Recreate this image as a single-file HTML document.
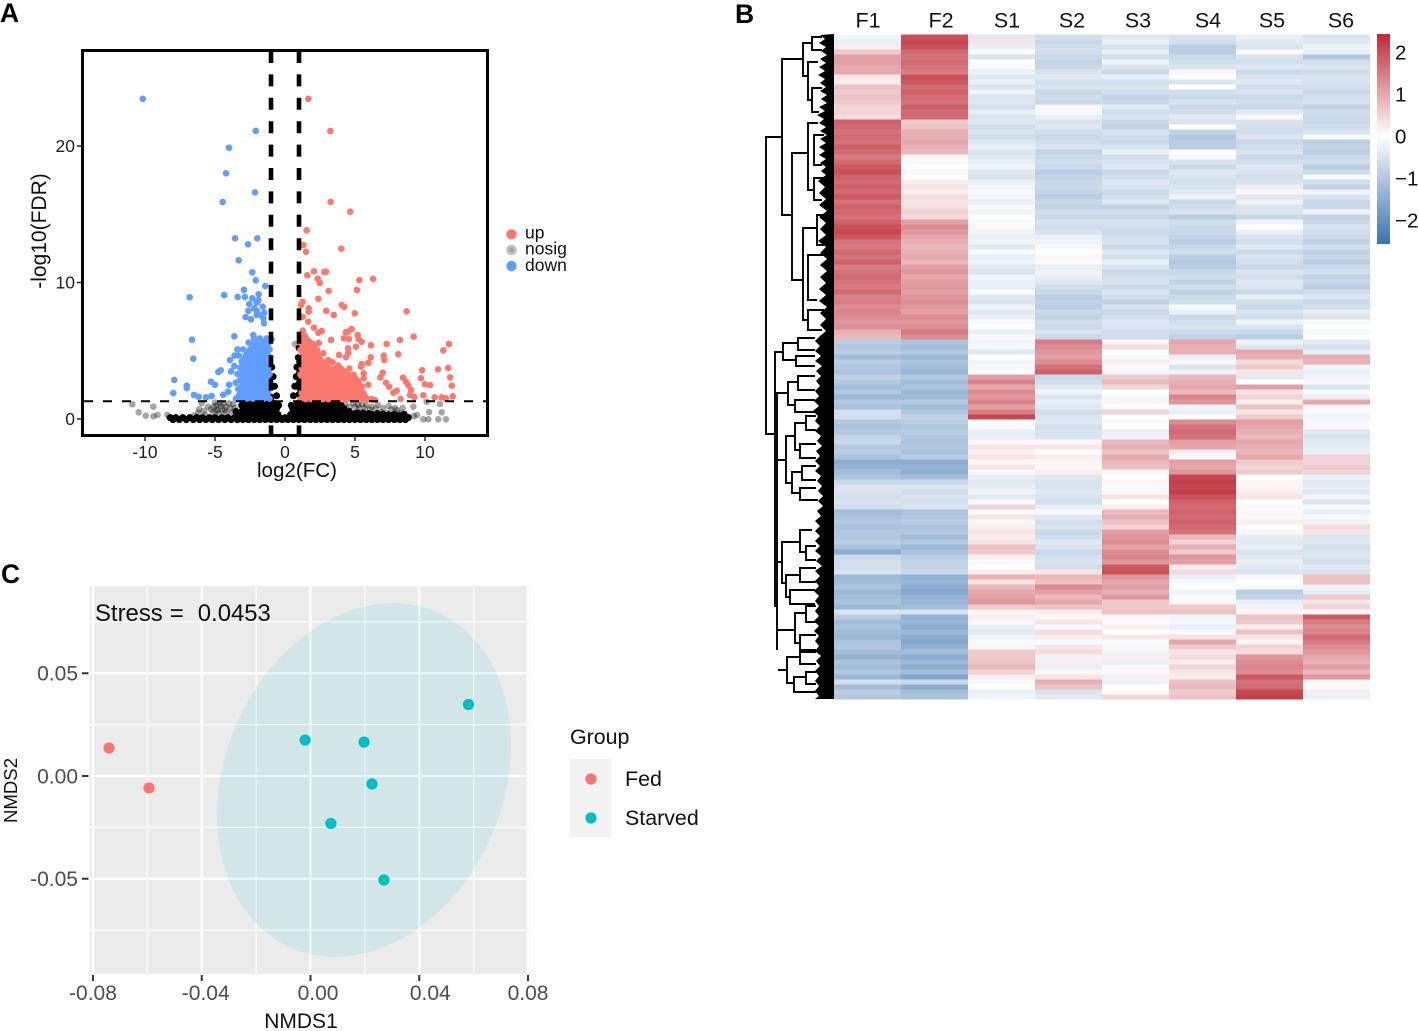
<!DOCTYPE html>
<html lang="en">
<head>
<meta charset="utf-8">
<title>Volcano plot, heatmap and NMDS ordination</title>
<style>
html,body{margin:0;padding:0;background:#fff;}
svg{display:block;font-family:"Liberation Sans",Arial,sans-serif;}
</style>
</head>
<body>
<svg id="fig" xmlns="http://www.w3.org/2000/svg" width="1418" height="1031" viewBox="0 0 1418 1031">
  <rect x="0" y="0" width="1418" height="1031" fill="#fff"/>
  <text x="0" y="22" font-size="26.5" font-weight="bold" fill="#000">A</text>
  <text x="735" y="23" font-size="26.5" font-weight="bold" fill="#000">B</text>
  <text x="1" y="583" font-size="26.5" font-weight="bold" fill="#000">C</text>

  <g id="volcano">
    <g id="volcano-points"></g>
    <line x1="271" y1="51" x2="271" y2="435" stroke="#000" stroke-width="4.6" stroke-dasharray="12 11.4"/>
    <line x1="299" y1="51" x2="299" y2="435" stroke="#000" stroke-width="4.6" stroke-dasharray="12 11.4"/>
    <line x1="84" y1="401.3" x2="486" y2="401.3" stroke="#000" stroke-width="2" stroke-dasharray="9 10"/>
    <rect x="82.5" y="50.5" width="405" height="385" fill="none" stroke="#000" stroke-width="3"/>
    <g id="volcano-axes"></g>
    <text x="297" y="477" font-size="20.6" text-anchor="middle" fill="#111">log2(FC)</text>
    <text transform="translate(46 231) rotate(-90)" font-size="21" text-anchor="middle" fill="#111">-log10(FDR)</text>
    <g font-size="17.5" fill="#111">
      <circle cx="511.5" cy="234.3" r="5.2" fill="#FB786E"/>
      <text x="525" y="238.5">up</text>
      <circle cx="511.5" cy="250" r="5.2" fill="#BDBDBD"/>
      <circle cx="511.5" cy="250" r="2.2" fill="#A0A0A0"/>
      <text x="525" y="254.5">nosig</text>
      <circle cx="511.5" cy="266" r="5.2" fill="#619CFF"/>
      <text x="525" y="271">down</text>
    </g>
  </g>

  <g id="heatmap">
    <g id="dendrogram">
      <polygon fill="#000" points="834,34 820,35 825,39 819,43 826,47 821,51 827,55 820,59 826,63 819,67 825,71 818,75 825,79 820,83 826,87 820,91 827,95 821,99 827,103 819,107 825,111 817,115 824,119 819,123 826,127 820,131 827,135 820,139 826,143 819,147 825,151 819,155 826,159 820,163 826,167 821,171 826,175 818,181 825,187 819,193 826,199 819,205 827,211 819,217 826,223 820,229 826,235 818,241 826,247 820,253 827,259 820,265 827,271 820,277 826,283 819,289 826,295 819,301 827,307 820,313 826,319 820,325 826,331 820,336 815,341 820,346 815,351 821,356 815,361 822,366 816,371 821,376 816,381 820,386 815,391 819,396 814,401 819,406 813,411 818,416 815,421 820,426 815,431 821,436 817,441 822,446 816,451 820,456 815,461 820,466 815,471 821,476 817,481 822,486 818,491 823,496 818,501 823,506 817,511 821,516 815,521 820,526 815,531 820,536 815,541 820,546 815,551 821,556 816,561 822,566 815,571 820,576 815,581 819,586 814,591 819,596 815,601 819,606 815,611 819,616 814,621 819,626 814,631 819,636 815,641 819,646 815,651 821,656 816,661 820,666 815,671 819,676 815,681 819,686 815,691 819,696 815,699 834,699"/>
      <path fill="none" stroke="#000" stroke-width="1.9" d="
        M782 137H766V434H775
        M803 59H782V215H792
        M812 43H803V76H808
        M822 37H812V50H822
        M818 62H808V100H812
        M822 88H812V112H819
        M808 153H792V280H803
        M818 123H808V190H814
        M824 135H814V165H822
        M824 178H814V200H822
        M817 228H803V320H808
        M824 215H817V245H824
        M824 255H808V300H817
        M824 310H808V330H822
        M783 352H775V607
        M798 343H783V360H796
        M815 338H798V350H815
        M815 356H796V366H815
        M788 393H777V650
        M798 382H788V405H795
        M815 376H798V390H815
        M815 400H795V412H815
        M786 460H777
        M795 436H786V483H792
        M806 423H795V450H800
        M816 430H806V416H816
        M816 444H800V458H816
        M802 472H792V493H800
        M816 466H802V480H816
        M816 488H800V500H818
        M782 562H777
        M800 542H782V583H786
        M812 530H800V552H806
        M816 546H806V560H816
        M800 575H786V597H790
        M816 568H800V582H816
        M815 590H790V604H815
        M795 630H778
        M806 613H795V643H800
        M816 606H806V622H816
        M816 635H800V652H816
        M787 670H778
        M800 657H787V683H794
        M816 650H800V664H816
        M806 677H794V692H816
        M816 672H806V684H816"/>
    </g>
    <g id="heat-cells" shape-rendering="crispEdges"></g>
    <g id="heat-labels"></g>
    <g id="colorbar"></g>
  </g>

  <g id="nmds">
    <rect x="89.5" y="586" width="440" height="388" fill="#EBEBEB"/>
    <g id="nmds-grid"></g>
    <polygon id="nmds-ellipse" fill="#00BFC4" fill-opacity="0.1"></polygon>
    <g id="nmds-points"></g>
    <g id="nmds-axes"></g>
    <text x="95" y="621" font-size="23.9" word-spacing="0.4" fill="#111" xml:space="preserve" style="white-space:pre">Stress =  0.0453</text>
    <text x="301" y="1028" font-size="21" text-anchor="middle" fill="#111">NMDS1</text>
    <text transform="translate(17 790.5) rotate(-90)" font-size="18.6" text-anchor="middle" fill="#111">NMDS2</text>
    <g fill="#111" font-size="21.4">
      <text x="570" y="744">Group</text>
      <rect x="570" y="759" width="41" height="78" fill="#F2F2F2"/>
      <circle cx="591" cy="779" r="5.6" fill="#F8766D"/>
      <circle cx="591" cy="818" r="5.6" fill="#00BFC4"/>
      <text x="625" y="786">Fed</text>
      <text x="625" y="825">Starved</text>
    </g>
  </g>
</svg>
<script>
/* ---------- Panel A data: [log2FC, -log10FDR] ---------- */
const volcanoXTicks = [-10, -5, 0, 5, 10];
const volcanoYTicks = [0, 10, 20];
const nosigEdge = [[-10.9,1.08],[-10.45,.49],[-9.95,.24],[-9.4,.9],[-9.4,.2],[-9.1,.3],[-8.4,.3],[-7.8,.1],[-6.14,.71],[-5.95,1.15],[-5.12,.53],[-4.64,1.15],[-4.9,1.0],[-4.2,.9],[-4.2,.5],[-3.7,1.1],[-5.1,.9],[-4.5,.65],[-5.5,.9],[-5.7,.3],[-.95,5.84],[.71,5.49],[9.17,.9],[10.12,1.27],[11.07,1.1],[10.29,.51],[11.19,.49],[9.88,-.02],[10.24,-.02],[10.95,-.02],[11.5,-.02],[8.81,.17],[9.43,.3],[5.24,1.03],[5.0,.9],[4.4,.66],[5.71,.8],[6.64,1.03],[7.86,.8],[7.26,.44],[8.2,.44],[7.6,.7],[9.2,.2],[6.1,.7],[6.9,.5],[-4.8,.7],[-3.9,.8],[-6.5,.25],
[-4.4,1.1],[-4.7,.4],[-4.0,1.15],[-3.8,.45],[-4.3,.65],[-4.6,.95],[-3.6,.8],[-4.9,.6],[-5.3,.7],[-5.0,1.2],[4.6,.9],[4.9,1.15],[5.3,.8],[5.5,1.1],[5.8,1.0],[6.2,.9],[6.5,.75],[7.0,.8],[7.4,.95],[8.0,.65],[8.4,.8],[4.3,1.1],[-5.8,.6],[-6.2,.45]];
const nosigCore = [[-8.2,.1],[-7.8,.1],[-7.3,.1],[-6.8,.1],[-6.3,.1],[-5.9,.1],[-5.4,.1],[-5,.1],[-4.5,.1],[-4.1,.1],[-3.6,.1],[-3.2,.1],[-2.8,.1],[-2.4,.1],[-2,.1],[-1.6,.1],[-1.2,.1],[-.8,.1],[-.4,.1],[0,.1],[.4,.1],[.8,.1],[1.2,.1],[1.6,.1],[2,.1],[2.4,.1],[2.8,.1],[3.2,.1],[3.6,.1],[4,.1],[4.4,.1],[4.8,.1],[5.2,.1],[5.6,.1],[6,.1],[6.4,.1],[6.8,.1],[7.2,.1],[7.6,.1],[8,.1],[8.4,.1],[8.8,.1],
[-8,-.05],[-7.55,-.05],[-7.05,-.05],[-6.55,-.05],[-6.1,-.05],[-5.65,-.05],[-5.2,-.05],[-4.75,-.05],[-4.3,-.05],[-3.85,-.05],[-3.4,-.05],[-3,-.05],[-2.6,-.05],[-2.2,-.05],[-1.8,-.05],[-1.4,-.05],[-1,-.05],[-.6,-.05],[-.2,-.05],[.2,-.05],[.6,-.05],[1,-.05],[1.4,-.05],[1.8,-.05],[2.2,-.05],[2.6,-.05],[3,-.05],[3.4,-.05],[3.8,-.05],[4.2,-.05],[4.6,-.05],[5,-.05],[5.4,-.05],[5.8,-.05],[6.2,-.05],[6.6,-.05],[7,-.05],[7.4,-.05],[7.8,-.05],[8.2,-.05],[8.6,-.05],
[-3.5,.55],[-3.1,.55],[-2.7,.55],[-2.3,.55],[-1.9,.55],[-1.5,.55],[-1.1,.55],[-.7,.55],[.6,.55],[1,.55],[1.4,.55],[1.8,.55],[2.2,.55],[2.6,.55],[3,.55],[3.4,.55],[3.8,.55],[4.2,.55],[4.6,.55],[5,.4],[5.4,.3],[6,.4],[7.4,.3],
[-3.3,.33],[-2.9,.33],[-2.5,.33],[-2.1,.33],[-1.7,.33],[-1.3,.33],[-.9,.33],[-.5,.33],[.4,.33],[.8,.33],[1.2,.33],[1.6,.33],[2,.33],[2.4,.33],[2.8,.33],[3.2,.33],[3.6,.33],[4,.33],[4.4,.33],[4.8,.33],[5.2,.45],[5.6,.45],[5.8,.3],[6.2,.35],[6.6,.4],[7,.35],[7.8,.35],[8.2,.25],[8.5,.35],
[-3.1,1.0],[-2.7,1.0],[-2.3,1.0],[-1.9,1.0],[-1.5,1.0],[-1.1,1.0],[-.7,1.0],[.8,1.0],[1.2,1.0],[1.6,1.0],[2,1.0],[2.4,1.0],[2.8,1.0],[3.2,1.0],[3.6,1.0],[4,1.0],
[-2.9,.77],[-2.5,.77],[-2.1,.77],[-1.7,.77],[-1.3,.77],[-.9,.77],[-.6,.77],[.55,.77],[1,.77],[1.4,.77],[1.8,.77],[2.2,.77],[2.6,.77],[3,.77],[3.4,.77],[3.8,.77],[4.2,.77],
[-2.9,1.2],[-2.5,1.2],[-2.1,1.2],[-1.7,1.2],[-1.3,1.2],[-.9,1.2],[1,1.2],[1.4,1.2],[1.8,1.2],[2.2,1.2],[2.6,1.2],[3,1.2],[3.4,1.2],[3.8,1.2],
[-.45,1.0],[-.6,1.7],[-.75,2.4],[-.85,3.1],[-.95,3.8],[-1,1.6],[-1,2.4],[-1,3.1],[-1.1,4.2],
[.45,1.0],[.6,1.7],[.7,2.4],[.8,3.1],[.85,3.8],[.95,4.5],[1,5.2],[1,1.8],[1,2.6],[1.05,3.4],[1.05,4.2]];
const upPoints = [[1.67,23.46],[3.24,21.1],[3.26,15.9],[4.66,15.19],[1.55,13.82],[1.31,12.75],[1.5,12.26],[4.02,12.48],[1.59,10.53],[2.07,10.82],[2.81,10.77],[2.93,10.79],[2.34,10.28],[2.48,9.96],[5.31,10.18],[6.29,10.26],[5.14,9.45],[3.12,9.38],[2.38,8.81],[4.05,8.35],[4.24,8.21],[1.26,8.59],[1.14,8.35],[1.69,8.11],[1.69,7.86],[2.95,7.93],[3.48,7.62],[4.98,7.74],[8.69,7.89],[1.26,7.49],[1.66,7.13],[2.07,6.69],[2.62,6.45],[2.38,6.32],[1.26,6.47],[4.76,6.59],[4.52,6.4],[4.34,6.35],[5.19,6.15],[5.26,5.86],[5.48,5.66],[5.07,5.3],[4.21,5.91],[4.57,5.86],[3.29,5.79],[2.41,5.57],[6.14,5.4],[7.26,5.49],[8.21,5.79],[9.19,6.03],[11.71,5.49],[11.31,5.03],[8.09,4.74],[7.05,4.64],[7.09,4.32],[6.12,4.52],[5.95,4.12],[5.48,4.03],[5.43,3.83],[4.5,5.18],[4.52,4.86],[4.36,4.54],[3.86,4.69],[3.09,4.32],[2.74,4.81],[2.55,4.15],[9.79,3.57],[10.93,3.64],[11.66,3.74],[9.71,2.98],[11.79,3.05],[10,2.54],[10.36,2.49],[11.91,2.44],[9.88,1.74],[10.69,1.59],[11.19,1.59],[11.48,1.52],[11.98,1.66],[9.24,1.61],[9,2.12],[8.81,2.47],[8.64,2.73],[8.43,3.03],[8.93,1.76],[8.26,1.47],[7.98,2.07],[7.74,1.93],[7.43,2.37],[7.21,2.66],[6.98,3.39],[6.81,3.05],[5.95,2.51],[5.62,3.35],[5.62,2.98],[6.43,1.39],
[1.1,1.45],[1.5,1.45],[1.9,1.45],[2.3,1.45],[2.7,1.45],[3.1,1.45],[3.5,1.45],[3.9,1.45],[4.3,1.45],[4.7,1.45],[5.1,1.45],[5.5,1.45],[5.9,1.45],[6.2,1.45],
[1.2,1.9],[1.6,1.9],[2.0,1.9],[2.4,1.9],[2.8,1.9],[3.2,1.9],[3.6,1.9],[4.0,1.9],[4.4,1.9],[4.8,1.9],[5.2,1.9],[5.6,1.9],
[1.1,2.35],[1.5,2.35],[1.9,2.35],[2.3,2.35],[2.7,2.35],[3.1,2.35],[3.5,2.35],[3.9,2.35],[4.3,2.35],[4.7,2.35],[5.1,2.35],[5.5,2.35],
[1.2,2.8],[1.6,2.8],[2.0,2.8],[2.4,2.8],[2.8,2.8],[3.2,2.8],[3.6,2.8],[4.0,2.8],[4.4,2.8],[4.8,2.8],[5.2,2.8],
[1.1,3.25],[1.5,3.25],[1.9,3.25],[2.3,3.25],[2.7,3.25],[3.1,3.25],[3.5,3.25],[4.1,3.25],[4.5,3.25],[4.9,3.25],
[1.2,3.7],[1.6,3.7],[2.0,3.7],[2.4,3.7],[2.8,3.7],[3.2,3.7],[3.6,3.7],[4.0,3.7],[4.6,3.7],
[1.1,4.15],[1.5,4.15],[1.9,4.15],[2.3,4.15],[2.9,4.15],[3.4,4.15],
[1.2,4.6],[1.6,4.6],[2.0,4.6],[2.4,4.6],[1.1,5.05],[1.5,5.05],[1.9,5.05],[2.3,5.05],[1.2,5.5],[1.6,5.5],[2.0,5.5],[1.1,5.9],[1.5,5.9],
[1.3,1.67],[1.7,1.67],[2.1,1.67],[2.5,1.67],[2.9,1.67],[3.3,1.67],[3.7,1.67],[4.1,1.67],[4.5,1.67],[4.9,1.67],[5.3,1.67],[5.7,1.67],
[1.4,2.12],[1.8,2.12],[2.2,2.12],[2.6,2.12],[3,2.12],[3.4,2.12],[3.8,2.12],[4.2,2.12],[4.6,2.12],[5,2.12],[5.4,2.12],
[1.3,2.57],[1.7,2.57],[2.1,2.57],[2.5,2.57],[2.9,2.57],[3.3,2.57],[3.7,2.57],[4.1,2.57],[4.5,2.57],[4.9,2.57],[5.3,2.57],
[1.4,3.02],[1.8,3.02],[2.2,3.02],[2.6,3.02],[3,3.02],[3.4,3.02],[3.8,3.02],[4.2,3.02],[4.6,3.02],[5,3.02],
[1.3,3.47],[1.7,3.47],[2.1,3.47],[2.5,3.47],[2.9,3.47],[3.3,3.47],[3.8,3.47],[4.3,3.47],
[1.4,3.92],[1.8,3.92],[2.2,3.92],[2.6,3.92],[3,3.92],[3.8,3.92],
[1.3,4.37],[1.7,4.37],[2.1,4.37],[2.5,4.37],[1.4,4.82],[1.8,4.82],[2.2,4.82],[1.3,5.27],[1.7,5.27],[2.1,5.27],[1.3,5.7],[1.7,5.7],[1.4,6.1]];
const downPoints = [[-10.16,23.46],[-2.09,21.1],[-4.0,19.88],[-4.21,18.0],[-2.14,16.6],[-4.45,15.9],[-3.57,13.24],[-1.98,13.24],[-2.64,12.8],[-3.31,11.63],[-2.34,10.75],[-2.09,10.16],[-1.41,9.74],[-2.93,9.47],[-6.81,8.92],[-4.34,9.08],[-3.38,8.94],[-2.86,8.94],[-1.88,9.14],[-2.34,8.84],[-2.55,8.42],[-2.02,8.52],[-1.59,8.23],[-2.62,7.93],[-2.02,7.93],[-1.48,7.79],[-2.02,7.62],[-2.81,7.47],[-2.43,7.3],[-1.55,7.38],[-1.5,7.01],[-2.2,8.1],[-1.7,7.6],[-1.9,8.7],[-3.62,6.06],[-6.64,5.81],[-2.26,6.15],[-6.55,4.42],[-3.93,4.32],[-7.91,2.86],[-7.98,1.9],[-7.02,2.44],[-7.02,2.27],[-6.5,1.76],[-6.16,1.63],[-5.64,1.59],[-5.24,1.68],[-5.29,2.73],[-5,2.51],[-4.76,3.44],[-4.59,3.57],[-3.86,3.49],[-4.41,1.78],[-4.05,2.0],[-4,2.51],[-3.52,2.66],[-3.34,2.2],[-3.62,3.88],
[-1.1,1.5],[-1.5,1.5],[-1.9,1.5],[-2.3,1.5],[-2.7,1.5],[-3.1,1.5],[-3.5,1.5],
[-1.2,1.95],[-1.6,1.95],[-2.0,1.95],[-2.4,1.95],[-2.8,1.95],[-3.2,1.95],
[-1.1,2.4],[-1.5,2.4],[-1.9,2.4],[-2.3,2.4],[-2.7,2.4],[-3.1,2.4],
[-1.2,2.85],[-1.6,2.85],[-2.0,2.85],[-2.4,2.85],[-2.8,2.85],[-3.2,2.85],
[-1.1,3.3],[-1.5,3.3],[-1.9,3.3],[-2.3,3.3],[-2.7,3.3],[-3.1,3.3],[-3.4,3.3],
[-1.2,3.75],[-1.6,3.75],[-2.0,3.75],[-2.4,3.75],[-2.8,3.75],[-3.2,3.75],
[-1.1,4.2],[-1.5,4.2],[-1.9,4.2],[-2.3,4.2],[-2.7,4.2],[-3.1,4.2],
[-1.2,4.65],[-1.6,4.65],[-2.0,4.65],[-2.4,4.65],[-2.8,4.65],[-3.3,4.65],[-3.6,4.65],
[-1.1,5.1],[-1.5,5.1],[-1.9,5.1],[-2.5,5.1],[-3.0,5.1],[-3.4,5.1],
[-1.2,5.5],[-1.6,5.5],[-2.0,5.5],[-2.4,5.5],[-1.3,5.9],[-1.8,5.9],[-2.2,5.9],
[-1.3,1.72],[-1.7,1.72],[-2.1,1.72],[-2.5,1.72],[-2.9,1.72],[-3.3,1.72],
[-1.4,2.17],[-1.8,2.17],[-2.2,2.17],[-2.6,2.17],[-3,2.17],
[-1.3,2.62],[-1.7,2.62],[-2.1,2.62],[-2.5,2.62],[-2.9,2.62],
[-1.4,3.07],[-1.8,3.07],[-2.2,3.07],[-2.6,3.07],[-3,3.07],
[-1.3,3.52],[-1.7,3.52],[-2.1,3.52],[-2.5,3.52],[-2.9,3.52],
[-1.4,3.97],[-1.8,3.97],[-2.2,3.97],[-2.6,3.97],[-3,3.97],
[-1.3,4.42],[-1.7,4.42],[-2.1,4.42],[-2.5,4.42],[-2.9,4.42],
[-1.4,4.87],[-1.8,4.87],[-2.2,4.87],[-2.7,4.87],[-1.3,5.3],[-1.7,5.3],[-2.2,5.3],[-1.5,5.7],[-2.6,5.6]];

/* ---------- Panel B data: z-scores per sample, top row to bottom row ---------- */
const sampleNames = ["F1","F2","S1","S2","S3","S4","S5","S6"];
const colorbarTicks = [2, 1, 0, -1, -2];
const colorbarRange = [-2.57, 2.43];
const zF1 = [-.2,-.3,.2,.6,1.1,1.1,1.0,1.0,.3,.2,
 .7,.6,.7,.6,.5,.5,.4,1.8,1.7,1.6,
 1.7,1.6,1.8,1.7,1.5,1.7,1.9,2.0,1.8,1.7,
 1.8,1.7,1.9,1.6,1.8,1.7,1.6,1.8,2.0,2.1,
 1.9,1.6,1.5,1.7,1.6,1.8,1.5,1.6,1.7,1.6,
 1.5,1.7,1.4,1.5,1.3,1.4,1.3,1.2,1.3,.9,
 .8,-.9,-1,-.9,-1.2,-.9,-1,-1.1,-.8,-1,
 -1.2,-1,-1.3,-1,-1.1,-.6,-.6,-1,-1.1,-1,
 -.8,-.7,-1,-.9,-1.1,-1.5,-1.4,-1.2,-1.1,-.7,
 -.5,-.5,-.6,-.5,-.6,-1.2,-1.1,-1,-1.1,-1,
 -1,-.9,-1.1,-1.5,-.7,-.6,-.6,-.5,-1.3,-1.2,
 -1.1,-1.3,-1.2,-1.1,-1.3,-.5,-.9,-1.2,-1.1,-1.2,
 -1.3,-1.1,-1,-1.2,-1.4,-1.1,-1.2,-1,-1.3,-.6,
 -1.2,-.9,-1];
const zF2 = [2,2.1,2,1.7,1.6,1.7,1.6,1.5,2,1.9,
 1.7,1.8,1.7,1.6,1.8,1.7,1.7,.6,.7,.9,
 .9,1,.9,.8,.1,-.1,0,.1,0,.2,
 .3,.2,.4,.3,.4,.5,.4,1.1,1.3,1.2,
 1,.9,.8,.9,1,.8,1.1,1.2,1,1.1,
 1.2,1.1,1.2,1.3,1.2,1.1,1.3,1.2,1.3,1.5,
 1.3,-1.1,-1.2,-1,-1.3,-1.1,-1.2,-1.3,-1,-1.2,
 -1.1,-1.3,-1.2,-1,-1.2,-1,-.8,-.9,-1,-.9,
 -1,-1.1,-1,-1.1,-.9,-1.5,-1.4,-1.5,-1.2,-.7,
 -.5,-.6,-.5,-.6,-.5,-1.1,-1,-.9,-1.1,-1,
 -1.2,-1,-1.3,-1.1,-.9,-.8,-.8,-.7,-1.4,-1.3,
 -1.5,-1.6,-1.4,-1.3,-1.2,-.5,-1.4,-1.3,-1.5,-1.3,
 -1.5,-1.6,-1.4,-1.2,-1.5,-1.3,-1.5,-1.2,-1.6,-.7,
 -1.5,-1.2,-1.1];
const zS1 = [-.4,.3,-.3,-.1,-.5,0,-.1,-.3,-.4,-.3,
 -.5,-.2,-.5,-.4,-.6,-.3,-.5,-.4,-.6,-.5,
 -.6,-.4,-.3,-.5,-.4,-.3,-.2,-.4,-.5,-.3,
 -.2,-.1,-.2,-.3,-.1,-.2,0,-.1,.1,-.2,
 -.3,-.2,-.4,-.1,-.3,-.2,-.4,-.5,-.2,-.3,
 -.3,-.1,-.4,-.5,-.2,-.4,-.3,-.1,0,-.3,
 -.1,-.2,-.1,-.4,0,-.2,.1,0,1.1,1.4,
 1,1.3,1.2,1.4,1.1,1.5,2.1,0,-.1,-.3,
 -.3,.1,.3,.2,.3,.1,.3,-.1,-.3,-.4,
 -.3,-.2,-.4,-.1,.5,-.1,.3,.1,.2,.3,
 .2,.3,.7,.6,.2,-.1,0,.2,.9,.3,
 .8,1,1.1,1.2,.6,.1,.2,-.1,-.3,-.4,
 -.2,-.1,.1,.6,.6,.7,.8,.5,.2,-.1,
 0,-.3,-.2];
const zS2 = [-.6,-.7,-.6,-.6,-.7,-.8,-.7,-.5,-.4,-.6,
 -.5,-.7,-.6,-.7,.1,-.1,-.3,-.5,-.4,-.6,
 -.7,-.6,-.5,-.8,-.7,-.6,-.7,-.9,-.8,-.7,
 -.7,-.8,-.9,-.7,-.8,-.6,-.7,-.5,-.6,-.5,
 -.3,-.2,-.1,0,.1,-.1,-.3,-.2,-.3,-.4,
 -.6,-.7,-.9,-.8,-.9,-.7,-.8,-.6,-.7,-.5,
 -.7,1.5,1.3,1.2,1.1,1.3,1.6,1.8,-.7,-.6,
 -.4,-.2,-.5,-.3,-.4,-.6,-.5,-.4,-.6,-.5,
 -.5,.1,.3,0,.2,.1,-.1,.2,-.4,-.5,
 -.5,-.4,-.5,-.6,-.3,-.1,-.4,-.6,-.5,-.7,
 -.6,-.4,-.5,-.7,-.6,-.5,-.6,.3,.8,.7,
 1.3,1.1,.8,1,.7,.2,.1,.3,-.1,.4,
 .2,-.1,.3,.4,-.2,.2,-.3,.1,.3,.9,
 .7,-.5,-.4];
const zS3 = [-.4,-.3,-.5,-.3,-.6,-.2,-.5,-.7,-.3,-.6,
 -.5,-.6,-.8,-.7,-.4,-.6,-.5,-.7,-.8,-.5,
 -.6,-.7,-.5,-.3,-.6,-.5,-.4,-.7,-.6,-.4,
 -.5,-.7,-.6,-.4,-.8,-.6,-.7,-.5,-.6,-.7,
 -.6,-.5,-.7,-.4,-.6,-.3,-.5,-.7,-.6,-.5,
 -.7,-.5,-.6,-.8,-.5,-.7,-.6,-.4,-.5,-.6,
 -.6,.1,.4,0,-.1,.2,-.1,-.2,.6,.8,
 .5,0,-.1,.1,0,.5,0,-.1,0,-.3,
 -.2,.8,.9,.7,1,.8,.7,.1,0,.1,
 -.1,.1,.3,0,.2,.8,.9,.7,.5,1.1,
 1.2,1.3,1.1,1.3,1.4,1.2,1.9,2,1.2,1,
 1.1,.9,1.2,.6,.6,.7,.1,-.1,.2,0,
 .3,-.1,.1,-.2,.2,-.3,.1,-.1,.2,-.2,
 0,-.1,.5];
const zS4 = [-.5,-.6,-.9,-.9,-.7,-.6,-.5,.1,0,-.5,
 0,-.6,-.7,-.5,-.7,-.6,-.4,-.5,0,-.8,
 -1,-.9,-.9,0,-.1,-.5,-.7,-.4,-.5,-.6,
 -.5,-.4,-.2,-.7,-.6,-.5,-.9,-.6,-.7,-.7,
 -.8,-.9,-.7,-.6,-.9,-1,-.9,-.7,-.6,-.8,
 -.6,-.8,-.7,-.6,-.1,-.3,-.7,-.6,-.5,-.7,
 -.8,1,.9,.9,-.3,-.1,-.5,-.2,.8,.9,
 1,.8,1.4,1.2,-.2,-.3,0,1.3,1.6,1.7,
 1.6,1.1,1,.2,-.1,1.1,1,1.2,2.1,2.2,
 2.1,2.2,2,1.8,1.7,1.8,1.7,1.8,1.7,1.6,
 .8,.5,.9,.6,1.2,1.1,.2,.4,-.3,-.1,
 0,-.2,-.1,.1,.6,.7,-.2,-.1,-.3,.1,
 .3,1,.6,.3,.4,.2,.5,.3,.2,.7,
 .8,.6,.7];
const zS5 = [-.3,-.4,-.5,.1,-.5,-.6,-.4,-.7,-.5,-.4,
 -.6,-.5,-.7,-.6,-.7,-.4,.1,-.5,-.6,-.6,
 -.5,-.7,-.6,-.5,-.7,-.6,-.4,-.5,-.6,-.5,
 -.3,.1,-.4,-.2,-.5,-.5,-.7,-.2,0,-.3,
 -.5,-.6,-.4,-.7,-.5,-.6,-.7,-.5,-.6,-.4,
 -.5,-.7,-.3,-.6,-.7,-.5,-.6,-.2,-.5,-.7,
 -.9,-.2,-.5,1,.9,.4,.6,.3,-.4,0,
 1.1,.3,.5,.2,.7,.3,.6,1.1,1,.9,
 .8,1,.9,.8,1,.6,.5,.6,0,.1,
 .1,.2,.3,0,-.1,.1,-.1,.2,0,.1,
 -.3,-.4,-.3,-.5,-.4,-.3,-.4,-.5,.1,0,
 -.1,-.9,-.8,-.3,-.2,.1,.7,.6,.2,.7,
 .3,.1,.5,.4,1.2,1.3,1.4,1.3,1.9,1.6,
 1.7,2.1,2.2];
const zS6 = [-.5,-.4,-.2,-.3,-1,-.6,-.5,-.6,-.5,-.5,
 -.6,-.7,-.6,-.5,-.8,-.6,-.7,-.7,-.6,-.5,
 -.1,-.9,-.8,-.9,-.7,-.6,-.9,-.7,-.1,-.6,
 -.8,-.2,-.5,-.7,-.7,-.2,-.8,-.7,-.5,-.6,
 -.7,-.8,-.6,-.8,-.7,-.9,-.7,-.6,-.8,-.7,
 -.9,-.6,-.5,-.7,-.6,-.3,-.5,-.1,0,-.1,
 0,-.4,-.6,-.3,.9,.9,-.2,-.3,-.2,-.1,
 -.5,-.1,-.3,1,.1,-.1,-.2,-.1,.1,-.4,
 -.5,-.4,-.3,-.3,.5,.5,.6,.5,-.3,-.4,
 -.3,-.4,-.2,-.5,-.1,-.3,-.1,-.2,.4,.3,
 -.5,-.4,-.6,-.5,-.5,-.6,-.4,-.5,.7,.7,
 -.2,-.3,.6,.3,.5,.1,1.9,1.5,1.3,1.4,
 1.7,1.5,1.3,1.2,1,.9,1.1,.8,1.2,.1,
 -.1,.2,-.3];
const heatColumns = [zF1, zF2, zS1, zS2, zS3, zS4, zS5, zS6];

/* ---------- Panel C data ---------- */
const nmdsXTicks = [-0.08, -0.04, 0, 0.04, 0.08];
const nmdsYTicks = [-0.05, 0, 0.05];
const nmdsXMinor = [-0.06, -0.02, 0.02, 0.06];
const nmdsYMinor = [-0.075, -0.025, 0.025, 0.075];
const fedX = [-0.0741, -0.0594];
const fedY = [0.0136, -0.0058];
const starvedX = [-0.002, 0.0197, 0.0226, 0.0075, 0.027, 0.0581];
const starvedY = [0.0175, 0.0165, -0.0039, -0.0231, -0.0506, 0.0348];
const ellipseCenter = [0.01968, -0.00195];
const ellipseSpread = [0.05406, 0.0861];
const ellipseCorr = 0.1975;

/* ---------- helpers ---------- */
const SVGNS = 'http://www.w3.org/2000/svg';
function mk(tag, parent, attrs) {
  const el = document.createElementNS(SVGNS, tag);
  for (const k in attrs) el.setAttribute(k, attrs[k]);
  parent.appendChild(el);
  return el;
}
function byId(id) { return document.getElementById(id); }

/* ---------- Panel A ---------- */
const volX = v => 285 + 14 * v;
const volY = v => 419 - 13.65 * v;
const volPts = byId('volcano-points');
nosigEdge.forEach(p => {
  const c = mk('circle', volPts, {cx: volX(p[0]), cy: volY(p[1]), r: 3.3, fill: '#000', 'fill-opacity': 0.35});
  
  
});
nosigCore.forEach(p => {
  const c = mk('circle', volPts, {cx: volX(p[0]), cy: volY(p[1]), r: 3.5, fill: '#000'});
  
  
});
upPoints.forEach(p => {
  const c = mk('circle', volPts, {cx: volX(p[0]), cy: volY(p[1]), r: 3.3, fill: '#FB786E'});
  
  
});
downPoints.forEach(p => {
  const c = mk('circle', volPts, {cx: volX(p[0]), cy: volY(p[1]), r: 3.3, fill: '#619CFF'});
  
  
});
const volAxes = byId('volcano-axes');
volcanoXTicks.forEach(v => {
  const t = mk('line', volAxes, {x1: volX(v), x2: volX(v), y1: 437, y2: 441, stroke: '#222', 'stroke-width': 1.5});
  
  
  const l = mk('text', volAxes, {x: volX(v), y: 458, 'font-size': 17.5, 'text-anchor': 'middle', fill: '#222'});
  
  
  l.textContent = v;
});
volcanoYTicks.forEach(v => {
  const t = mk('line', volAxes, {x1: 77, x2: 81, y1: volY(v), y2: volY(v), stroke: '#222', 'stroke-width': 1.5});
  
  
  const l = mk('text', volAxes, {x: 75, y: volY(v) + 6, 'font-size': 17.5, 'text-anchor': 'end', fill: '#222'});
  
  
  l.textContent = v;
});

/* ---------- Panel B ---------- */
const heatLeft = 834, heatTop = 34.3, colW = 67, heatH = 665;
function mix(a, b, t) { return Math.round(a + (b - a) * t); }
function heatColor(v) {
  if (v >= 0) {
    const t = Math.min(1, v / colorbarRange[1]);
    return 'rgb(' + mix(255, 190, t) + ',' + mix(255, 42, t) + ',' + mix(255, 54, t) + ')';
  }
  const t = Math.min(1, -v / -colorbarRange[0]);
  return 'rgb(' + mix(255, 58, t) + ',' + mix(255, 114, t) + ',' + mix(255, 174, t) + ')';
}
const heatCells = byId('heat-cells');
heatColumns.forEach((col, ci) => {
  const rowH = heatH / col.length;
  col.forEach((v, ri) => {
    const r = mk('rect', heatCells, {x: heatLeft + ci * colW, y: heatTop + ri * rowH, width: colW, height: rowH + 0.4, fill: heatColor(v)});
    
    
  });
});
const headerShift = [0.5, 6.5, 5.5, 3.5, 2.5, 5.5, 2.5, 4.5];
const heatLabels = byId('heat-labels');
sampleNames.forEach((name, i) => {
  const t = mk('text', heatLabels, {x: heatLeft + (i + 0.5) * colW + headerShift[i], y: 27.5, 'font-size': 21.5, 'text-anchor': 'middle', fill: '#111'});
  
  
  t.textContent = name;
});
const cbTop = 34, cbH = 210, cbX = 1377, cbW = 13;
const cbY = v => cbTop + (colorbarRange[1] - v) / (colorbarRange[1] - colorbarRange[0]) * cbH;
const colorbarEl = byId('colorbar');
for (let v = colorbarRange[1]; v > colorbarRange[0]; v -= 0.05) {
  const s = mk('rect', colorbarEl, {x: cbX, y: cbY(v), width: cbW, height: Math.min(3, cbTop + cbH - cbY(v)), fill: heatColor(v - 0.025), 'shape-rendering': 'crispEdges'});
  
  
}
colorbarTicks.forEach(v => {
  const t = mk('text', colorbarEl, {x: v < 0 ? 1395 : 1395, y: cbY(v) + 7.5, 'font-size': 20.5, fill: '#111'});
  
  
  t.textContent = (v < 0 ? '\u2212' + (-v) : String(v));
});

/* ---------- Panel C ---------- */
const nmX = v => 310.5 + 2719 * v;
const nmY = v => 776 - 2055 * v;
const nmGrid = byId('nmds-grid');
nmdsXMinor.forEach(v => {
  const l = mk('line', nmGrid, {x1: nmX(v), x2: nmX(v), y1: 586, y2: 974, stroke: '#fff', 'stroke-width': 1.2});
  
  
});
nmdsYMinor.forEach(v => {
  const l = mk('line', nmGrid, {x1: 89.5, x2: 529.5, y1: nmY(v), y2: nmY(v), stroke: '#fff', 'stroke-width': 1.2});
  
  
});
nmdsXTicks.forEach(v => {
  const l = mk('line', nmGrid, {x1: nmX(v), x2: nmX(v), y1: 586, y2: 974, stroke: '#fff', 'stroke-width': 2.3});
  
  
});
nmdsYTicks.forEach(v => {
  const l = mk('line', nmGrid, {x1: 89.5, x2: 529.5, y1: nmY(v), y2: nmY(v), stroke: '#fff', 'stroke-width': 2.3});
  
  
});
const ellipsePts = [];
for (let a = 0; a < 360; a += 3) {
  const t = a * Math.PI / 180;
  const ex = ellipseCenter[0] + ellipseSpread[0] * Math.cos(t);
  const ey = ellipseCenter[1] + ellipseSpread[1] * (ellipseCorr * Math.cos(t) + Math.sqrt(1 - ellipseCorr * ellipseCorr) * Math.sin(t));
  ellipsePts.push(nmX(ex).toFixed(1) + ',' + nmY(ey).toFixed(1));
}
byId('nmds-ellipse').setAttribute('points', ellipsePts.join(' '));
const nmPts = byId('nmds-points');
fedX.forEach((x, i) => {
  const c = mk('circle', nmPts, {cx: nmX(x), cy: nmY(fedY[i]), r: 5.6, fill: '#F8766D'});
  
  
});
starvedX.forEach((x, i) => {
  const c = mk('circle', nmPts, {cx: nmX(x), cy: nmY(starvedY[i]), r: 5.6, fill: '#00BFC4'});
  
  
});
const nmAxes = byId('nmds-axes');
const xLabelShift = [0, 4, 7.5, 11, 0];
nmdsXTicks.forEach((v, i) => {
  const t = mk('line', nmAxes, {x1: nmX(v), x2: nmX(v), y1: 975, y2: 981, stroke: '#333', 'stroke-width': 2});
  
  
  const l = mk('text', nmAxes, {x: nmX(v) + xLabelShift[i], y: 1000, 'font-size': 21, 'text-anchor': 'middle', fill: '#4D4D4D'});
  
  
  l.textContent = v.toFixed(2);
});
nmdsYTicks.forEach(v => {
  const t = mk('line', nmAxes, {x1: 82, x2: 88.5, y1: nmY(v), y2: nmY(v), stroke: '#333', 'stroke-width': 2});
  
  
  const l = mk('text', nmAxes, {x: 78, y: nmY(v) + 7.3, 'font-size': 21, 'text-anchor': 'end', fill: '#4D4D4D'});
  
  
  l.textContent = v.toFixed(2);
});
</script>
</body>
</html>
